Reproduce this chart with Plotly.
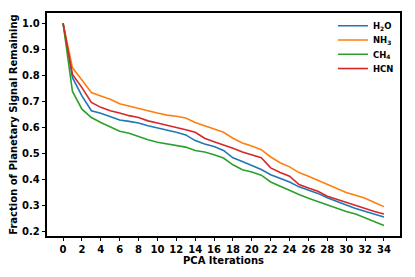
import plotly.graph_objects as go

iterations = list(range(35))
h2o = [1.0, 0.79, 0.72, 0.663, 0.653, 0.641, 0.627, 0.622, 0.616, 0.605, 0.597, 0.589, 0.58,
       0.57, 0.548, 0.535, 0.525, 0.51, 0.482, 0.468, 0.453, 0.437, 0.417, 0.402, 0.389,
       0.37, 0.357, 0.345, 0.328, 0.313, 0.30, 0.287, 0.275, 0.265, 0.254]
nh3 = [1.0, 0.828, 0.781, 0.733, 0.72, 0.707, 0.69, 0.682, 0.673, 0.663, 0.654, 0.646, 0.642,
       0.635, 0.618, 0.605, 0.593, 0.58, 0.557, 0.539, 0.527, 0.513, 0.485, 0.463, 0.447,
       0.425, 0.411, 0.395, 0.379, 0.364, 0.348, 0.338, 0.326, 0.31, 0.294]
ch4 = [1.0, 0.737, 0.669, 0.637, 0.618, 0.602, 0.584, 0.576, 0.563, 0.551, 0.542, 0.535, 0.529,
       0.523, 0.51, 0.504, 0.494, 0.481, 0.455, 0.436, 0.427, 0.415, 0.389, 0.372, 0.357,
       0.341, 0.326, 0.313, 0.30, 0.287, 0.275, 0.266, 0.252, 0.237, 0.221]
hcn = [1.0, 0.803, 0.752, 0.695, 0.676, 0.663, 0.654, 0.644, 0.637, 0.624, 0.616, 0.608, 0.599,
       0.59, 0.58, 0.557, 0.544, 0.532, 0.519, 0.504, 0.494, 0.482, 0.443, 0.425, 0.411,
       0.379, 0.366, 0.353, 0.334, 0.322, 0.31, 0.30, 0.287, 0.275, 0.266]

series = [
    ("H<sub>2</sub>O", h2o, "#1f77b4"),
    ("NH<sub>3</sub>", nh3, "#ff7f0e"),
    ("CH<sub>4</sub>", ch4, "#2ca02c"),
    ("HCN", hcn, "#d62728"),
]
legend_ids = ["legend", "legend2", "legend3", "legend4"]
legend_y = [0.943, 0.879, 0.815, 0.751]

fig = go.Figure()
for (name, vals, color), lid in zip(series, legend_ids):
    fig.add_trace(go.Scatter(x=iterations, y=vals, mode="lines", name=name,
                             line=dict(color=color, width=1.6), legend=lid))

font_main = dict(family="DejaVu Sans", size=10, color="black", weight="bold")
font_leg = dict(family="DejaVu Sans", size=8.5, color="black", weight="bold")

layout_legends = {}
for lid, ly in zip(legend_ids, legend_y):
    layout_legends[lid] = dict(x=0.81, y=ly, xanchor="left", yanchor="middle",
                               bgcolor="rgba(0,0,0,0)", borderwidth=0,
                               font=font_leg, itemwidth=30, tracegroupgap=0)

fig.update_layout(
    width=415, height=277,
    margin=dict(l=39, r=23, t=5, b=49, autoexpand=False),
    paper_bgcolor="white", plot_bgcolor="white",
    font=font_main,
    showlegend=True,
    **layout_legends,
)
fig.update_xaxes(
    range=[-1.7, 35.7], tickmode="array", tickvals=list(range(0, 35, 2)),
    ticks="outside", ticklen=3.5, tickwidth=1, tickcolor="black",
    showline=True, linecolor="black", linewidth=1.5, mirror=True,
    showgrid=False, zeroline=False, automargin=False,
    tickfont=font_main,
    title=dict(text="PCA Iterations", font=font_main, standoff=2),
)
fig.update_yaxes(
    range=[0.181, 1.039], tickmode="array",
    tickvals=[0.2, 0.3, 0.4, 0.5, 0.6, 0.7, 0.8, 0.9, 1.0],
    ticktext=["0.2", "0.3", "0.4", "0.5", "0.6", "0.7", "0.8", "0.9", "1.0"],
    ticks="outside", ticklen=3.5, tickwidth=1, tickcolor="black",
    showline=True, linecolor="black", linewidth=1.5, mirror=True,
    showgrid=False, zeroline=False, automargin=False,
    tickfont=font_main,
    title=dict(text="Fraction of Planetary Signal Remaining", font=font_main, standoff=4),
)

fig.write_html("out.html")
